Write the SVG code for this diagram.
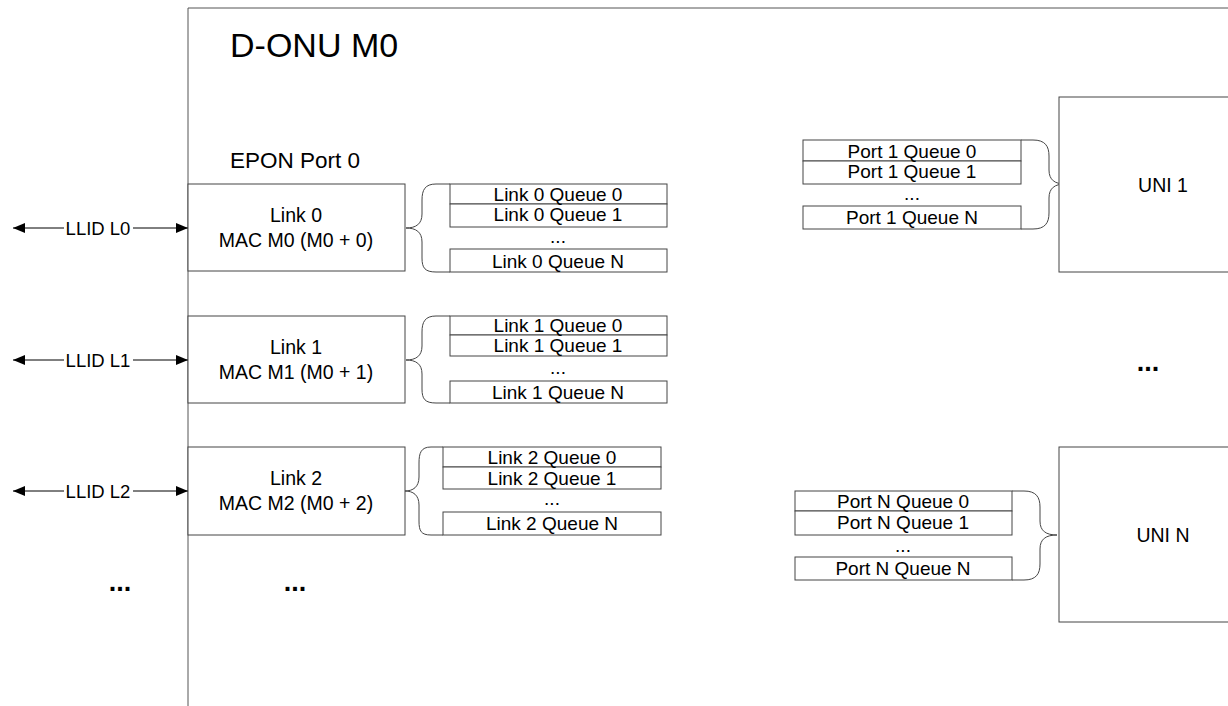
<svg xmlns="http://www.w3.org/2000/svg" width="1228" height="706" viewBox="0 0 1228 706">
<defs>
<marker id="ah" viewBox="0 0 12 10" refX="12" refY="5" markerWidth="12" markerHeight="10" markerUnits="userSpaceOnUse" orient="auto-start-reverse">
<path d="M0,0 L12,5 L0,10 Z" fill="#000"/>
</marker>
<style>
text{font-family:"Liberation Sans",Arial,sans-serif;fill:#000}
.box{fill:#fff;stroke:#444;stroke-width:1}
.q{fill:#fff;stroke:#444;stroke-width:1}
.qt{font-size:19px;text-anchor:middle}
.bt{font-size:19.5px;text-anchor:middle}
.lt{font-size:18.5px;text-anchor:middle}
.dots{font-size:27px;font-weight:bold;text-anchor:middle}
.brace{fill:none;stroke:#444;stroke-width:1}
.arr{stroke:#000;stroke-width:1;fill:none}
</style>
</defs>
<rect width="1228" height="706" fill="#fff"/>

<g id="donu">
<path d="M188,706 V8 H1228" fill="none" stroke="#555" stroke-width="1"/>
<text x="230" y="57" font-size="34">D-ONU M0</text>
<text x="230" y="168" font-size="22.5">EPON Port 0</text>
</g>

<g id="connectors">
<line class="arr" x1="13" y1="228" x2="64" y2="228" marker-start="url(#ah)"/>
<line class="arr" x1="133" y1="228" x2="188" y2="228" marker-end="url(#ah)"/>
<line class="arr" x1="13" y1="360" x2="64" y2="360" marker-start="url(#ah)"/>
<line class="arr" x1="133" y1="360" x2="188" y2="360" marker-end="url(#ah)"/>
<line class="arr" x1="13" y1="491" x2="64" y2="491" marker-start="url(#ah)"/>
<line class="arr" x1="133" y1="491" x2="188" y2="491" marker-end="url(#ah)"/>
<text class="lt" x="98" y="235">LLID L0</text>
<text class="lt" x="98" y="367">LLID L1</text>
<text class="lt" x="98" y="498">LLID L2</text>
<path class="brace" d="M450,184 H436 C425,184 422,190 422,200 V214 C422,224 416,228 406,228 C416,228 422,232 422,242 V258 C422,268 425,272 436,272 H450"/>
<path class="brace" d="M450,316 H436 C425,316 422,322 422,332 V346 C422,356 416,360 406,360 C416,360 422,364 422,374 V389 C422,399 425,403 436,403 H450"/>
<path class="brace" d="M443,447 H431 C421,447 419,453 419,463 V477 C419,487 413,491 405,491 C413,491 419,495 419,505 V521 C419,531 421,535 431,535 H443"/>
<path class="brace" d="M1021,140 H1033 C1045,140 1049,146 1049,156 V170 C1049,180 1055,184 1065,184 C1055,184 1049,188 1049,198 V213 C1049,223 1045,229 1033,229 H1021"/>
<path class="brace" d="M1012,491 H1024 C1036,491 1040,497 1040,507 V521 C1040,531 1046,535 1057,535 C1046,535 1040,539 1040,549 V564 C1040,574 1036,580 1024,580 H1012"/>
</g>

<g id="link0">
<rect class="box" x="188" y="184" width="217" height="87"/>
<text class="bt" x="296" y="222">Link 0</text>
<text class="bt" x="296" y="247">MAC M0 (M0 + 0)</text>
</g>
<g id="link0-queues">
<rect class="q" x="450" y="184" width="217" height="20"/>
<rect class="q" x="450" y="204" width="217" height="23"/>
<rect class="q" x="450" y="249" width="217" height="23"/>
<text class="qt" x="558" y="201">Link 0 Queue 0</text>
<text class="qt" x="558" y="221">Link 0 Queue 1</text>
<text class="qt" x="558" y="243">...</text>
<text class="qt" x="558" y="268">Link 0 Queue N</text>
</g>

<g id="link1">
<rect class="box" x="188" y="316" width="217" height="87"/>
<text class="bt" x="296" y="354">Link 1</text>
<text class="bt" x="296" y="379">MAC M1 (M0 + 1)</text>
</g>
<g id="link1-queues">
<rect class="q" x="450" y="316" width="217" height="19"/>
<rect class="q" x="450" y="335" width="217" height="21"/>
<rect class="q" x="450" y="381" width="217" height="22"/>
<text class="qt" x="558" y="332">Link 1 Queue 0</text>
<text class="qt" x="558" y="352">Link 1 Queue 1</text>
<text class="qt" x="558" y="374">...</text>
<text class="qt" x="558" y="399">Link 1 Queue N</text>
</g>

<g id="link2">
<rect class="box" x="188" y="447" width="217" height="88"/>
<text class="bt" x="296" y="485">Link 2</text>
<text class="bt" x="296" y="510">MAC M2 (M0 + 2)</text>
</g>
<g id="link2-queues">
<rect class="q" x="443" y="447" width="218" height="20"/>
<rect class="q" x="443" y="467" width="218" height="22"/>
<rect class="q" x="443" y="512" width="218" height="23"/>
<text class="qt" x="552" y="464">Link 2 Queue 0</text>
<text class="qt" x="552" y="485">Link 2 Queue 1</text>
<text class="qt" x="552" y="505">...</text>
<text class="qt" x="552" y="530">Link 2 Queue N</text>
</g>

<g id="dots-left">
<text class="dots" x="120" y="591">...</text>
<text class="dots" x="295" y="591">...</text>
</g>

<g id="port1-queues">
<rect class="q" x="803" y="140" width="218" height="21"/>
<rect class="q" x="803" y="161" width="218" height="23"/>
<rect class="q" x="803" y="206" width="218" height="23"/>
<text class="qt" x="912" y="158">Port 1 Queue 0</text>
<text class="qt" x="912" y="178">Port 1 Queue 1</text>
<text class="qt" x="912" y="200">...</text>
<text class="qt" x="912" y="224">Port 1 Queue N</text>
</g>
<g id="uni1">
<rect class="box" x="1059" y="97" width="200" height="175"/>
<text class="bt" x="1163" y="192">UNI 1</text>
</g>

<g id="dots-right">
<text class="dots" x="1148" y="371">...</text>
</g>

<g id="portN-queues">
<rect class="q" x="795" y="491" width="217" height="20"/>
<rect class="q" x="795" y="511" width="217" height="24"/>
<rect class="q" x="795" y="557" width="217" height="23"/>
<text class="qt" x="903" y="508">Port N Queue 0</text>
<text class="qt" x="903" y="529">Port N Queue 1</text>
<text class="qt" x="903" y="552">...</text>
<text class="qt" x="903" y="575">Port N Queue N</text>
</g>
<g id="uniN">
<rect class="box" x="1059" y="447" width="200" height="175"/>
<text class="bt" x="1163" y="542">UNI N</text>
</g>
</svg>
